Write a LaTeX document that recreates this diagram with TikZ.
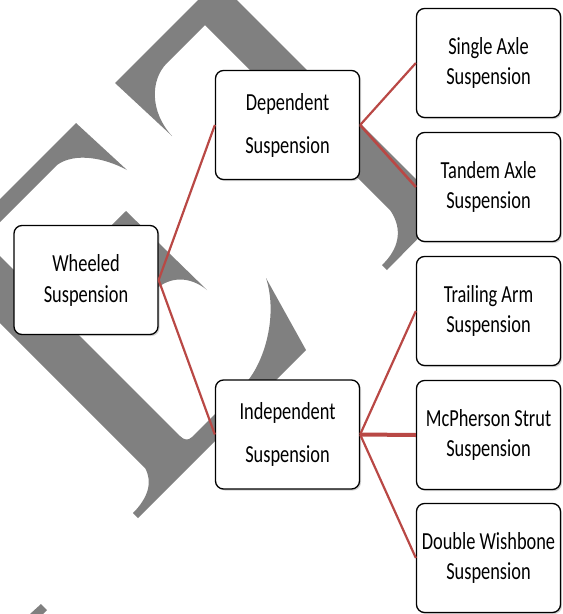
\documentclass[tikz,border=0pt]{standalone}
\usepackage{fontspec}
\setmainfont{Carlito}[FakeStretch=0.75]
\usetikzlibrary{shadows}
\definecolor{wmgray}{HTML}{808080}
\definecolor{linkred}{HTML}{B94845}
\begin{document}
\begin{tikzpicture}[x=1pt,y=-1pt,
  box/.style={draw=black, line width=1.3pt, rounded corners=8pt, fill=white,
    minimum width=144pt, minimum height=109pt, align=center, inner sep=0pt,
    text=black,
    drop shadow={shadow xshift=1.5pt, shadow yshift=-1.5pt, opacity=0.35}},
  txtA/.style={font=\fontsize{24.5}{30}\selectfont},
  txtB/.style={font=\fontsize{24.5}{43}\selectfont},
  txtW/.style={font=\fontsize{24.5}{31}\selectfont},
  link/.style={draw=linkred, line width=2.2pt},
  linkthick/.style={draw=linkred, line width=4pt}]
\useasboundingbox (0,0) rectangle (563,614);
\begin{scope}
\clip (0,0) rectangle (563,614);
% watermark letter E
\fill[wmgray] (76,123) -- (127,170) .. controls (105,158) and (75,152) .. (57,165)
  -- (-17,239) -- (40,296) -- (126,211) -- (207,290)
  .. controls (190,276) and (170,276) .. (155,290) -- (70,326) -- (180,436)
  .. controls (184,440) and (188,441) .. (192,437) -- (245,384)
  .. controls (265,362) and (278,315) .. (266,278) -- (306,350) -- (138,518)
  -- (133,513) .. controls (148,498) and (153,482) .. (145,468)
  -- (-40,283) -- (-40,239) -- cycle;
% watermark letter C
\fill[wmgray] (115,83) -- (217.5,-19.5) -- (446.5,209.5) -- (387,270) -- (382,265)
  .. controls (398,250) and (404,230) .. (390,210) -- (205,25) -- (167,63)
  .. controls (150,80) and (150,112) .. (172,136) -- cycle;
% small fragment bottom left
\fill[wmgray] (30,614) -- (41,604) -- (47,610) -- (43,614) -- cycle;
\end{scope}

\node[box, txtW] (W) at (86,280) {Wheeled\\Suspension};
\node[box, txtB] (Dep) at (287.5,125) {Dependent\\Suspension};
\node[box, txtB] (Ind) at (287.5,434.5) {Independent\\Suspension};
\node[box, txtA] (Sin) at (488.5,63) {Single Axle\\Suspension};
\node[box, txtA] (Tan) at (488.5,187) {Tandem Axle\\Suspension};
\node[box, txtA] (Tra) at (488.5,311) {Trailing Arm\\Suspension};
\node[box, txtA] (McP) at (488.5,435) {McPherson Strut\\Suspension};
\node[box, txtA] (Dou) at (488.5,558) {Double Wishbone\\Suspension};

\draw[link] (W.east) -- (Dep.west);
\draw[link] (W.east) -- (Ind.west);
\draw[link] (Dep.east) -- (Sin.west);
\draw[link, line width=2.6pt] (Dep.east) -- (Tan.west);
\draw[link] (Ind.east) -- (Tra.west);
\draw[linkthick] (Ind.east) -- (McP.west);
\draw[link] (Ind.east) -- (Dou.west);
\end{tikzpicture}
\end{document}
